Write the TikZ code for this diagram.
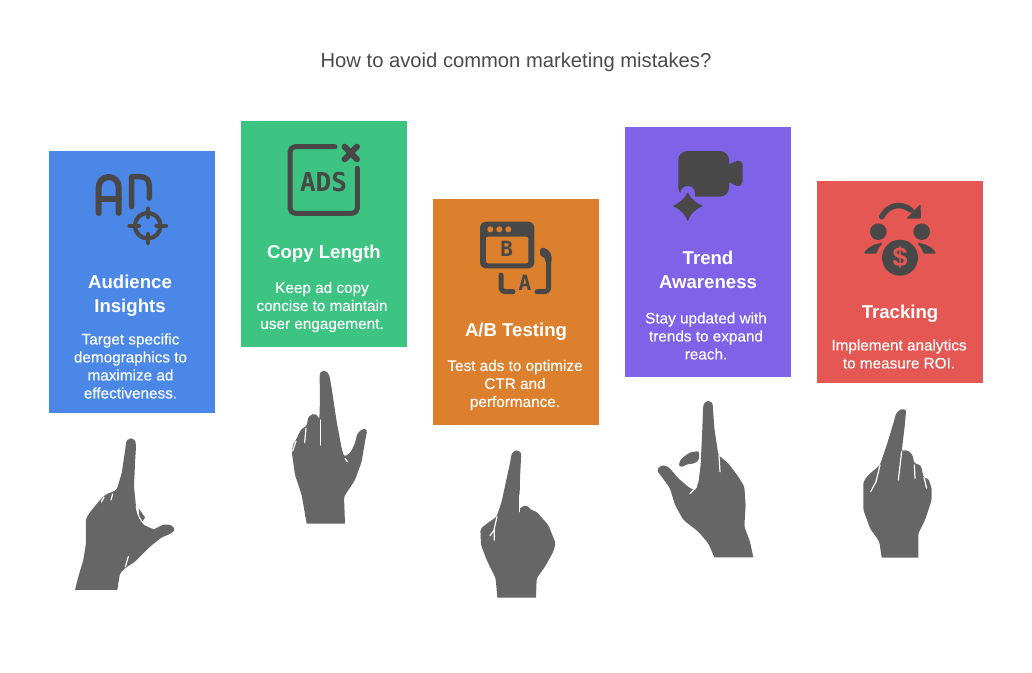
\documentclass[tikz,border=0pt]{standalone}
\usepackage{fontspec}
\setmainfont{Liberation Sans}
\newfontfamily\iconfont{DejaVu Sans Mono}
\newfontfamily\bodyfont[FakeBold=0.2]{Liberation Sans}
\definecolor{cardblue}{HTML}{4B87E6}
\definecolor{cardgreen}{HTML}{3DC482}
\definecolor{cardorange}{HTML}{DD802E}
\definecolor{cardpurple}{HTML}{7E63E8}
\definecolor{cardred}{HTML}{E55753}
\definecolor{icongray}{HTML}{484848}
\definecolor{handgray}{HTML}{666666}
\definecolor{titlegray}{HTML}{4A4A4A}
\tikzstyle{card}=[
    minimum width = 166pt,
    inner sep = 0pt,
    anchor = north west
]
\tikzstyle{headtext}=[
    text = white,
    align = center,
    font = \fontsize{18.6}{24}\selectfont\bfseries
]
\tikzstyle{bodytext}=[
    text = white,
    align = center,
    font = \bodyfont\fontsize{15.3}{18}\selectfont
]
\tikzstyle{iconline}=[
    draw = icongray,
    line width = 5pt,
    line cap = round,
    line join = round
]
\tikzstyle{icontext}=[
    text = icongray,
    inner sep = 0pt,
    font = \iconfont\bfseries\fontsize{26}{26}\selectfont
]
\tikzstyle{hand}=[
    fill = handgray,
    rounded corners = 2.5pt
]
\tikzstyle{slit}=[
    draw = white,
    line width = 1.2pt,
    line cap = round
]

\begin{document}
\begin{tikzpicture}[x=1pt, y=-1pt]
        \useasboundingbox (0,0) rectangle (1032,672);
        \node[text=titlegray, font=\fontsize{20.2}{24}\selectfont] (title) at (516,62) {How to avoid common marketing mistakes?};

        \node[card, fill=cardblue, minimum height=262pt] (card1) at (49,151) {};
        \node[card, fill=cardgreen, minimum height=226pt] (card2) at (241,121) {};
        \node[card, fill=cardorange, minimum height=226pt] (card3) at (433,199) {};
        \node[card, fill=cardpurple, minimum height=250pt] (card4) at (625,127) {};
        \node[card, fill=cardred, minimum height=202pt] (card5) at (817,181) {};

        \node[headtext] (head1) at (130,296) {Audience\\Insights};
        \node[bodytext] (body1) at (130.5,366) {Target specific\\demographics to\\maximize ad\\effectiveness.};
        \node[headtext] (head2) at (324,254) {Copy Length};
        \node[bodytext] (body2) at (322,307) {Keep ad copy\\concise to maintain\\user engagement.};
        \node[headtext] (head3) at (516,332) {A/B Testing};
        \node[bodytext] (body3) at (515,385) {Test ads to optimize\\CTR and\\performance.};
        \node[headtext] (head4) at (708,270) {Trend\\Awareness};
        \node[bodytext] (body4) at (706,336) {Stay updated with\\trends to expand\\reach.};
        \node[headtext] (head5) at (900,314) {Tracking};
        \node[bodytext] (body5) at (899,354) {Implement analytics\\to measure ROI.};

        % audience icon
        \draw[iconline, line width=6pt] (98.7,213) -- (98.7,187) arc[start angle=180, end angle=360, radius=10] -- (118.7,213);
        \draw[iconline, line width=6pt] (98.7,199) -- (118.7,199);
        \draw[iconline, line width=5.5pt] (131.7,206.7) -- (131.7,176.7) -- (140,176.7) .. controls (146,176.7) and (149.3,180) .. (149.3,186) -- (149.3,198);
        \draw[iconline, line width=4.2pt] (147.7,225.7) circle (12.8);
        \draw[iconline, line width=4.2pt] (147.7,208.5) -- (147.7,217);
        \draw[iconline, line width=4.2pt] (147.7,234) -- (147.7,243);
        \draw[iconline, line width=4.2pt] (129.5,225.7) -- (139,225.7);
        \draw[iconline, line width=4.2pt] (156.5,225.7) -- (166,225.7);

        % ads icon
        \draw[iconline, rounded corners=5pt] (335,146.7) -- (290,146.7) -- (290,213.3) -- (357.3,213.3) -- (357.3,168.3);
        \draw[iconline, line width=6pt] (344.5,146.7) -- (357,159.3);
        \draw[iconline, line width=6pt] (357,146.7) -- (344.5,159.3);
        \node[icontext] (adstext) at (323.5,182) {ADS};

        % a/b icon
        \fill[icongray, rounded corners=6pt] (480,221.7) rectangle (534.3,268.3);
        \fill[cardorange, rounded corners=2pt] (486,236.7) rectangle (528.3,263.3);
        \foreach \dotx in {490.3,499.3,508.3}
            \fill[cardorange] (\dotx,229.3) circle (3);
        \node[icontext, font=\iconfont\bfseries\fontsize{21}{21}\selectfont] (btext) at (506.7,249.3) {B};
        \node[icontext, font=\iconfont\bfseries\fontsize{21}{21}\selectfont] (atext) at (525,283.3) {A};
        \draw[iconline, rounded corners=4pt] (501,275) -- (501,291.7) -- (513,291.7);
        \draw[iconline, rounded corners=4pt] (537,291.7) -- (548.7,291.7) -- (548.7,262);
        \fill[icongray, rounded corners=3pt] (540,247.5) -- (546,248) -- (551.5,254) -- (551.5,264) -- (545.5,264) -- (545,257) -- (540,256.5) -- cycle;

        % video icon
        \fill[icongray, rounded corners=9pt] (678.3,151) rectangle (729,196.7);
        \fill[icongray, rounded corners=2pt] (725,166) -- (739,160) -- (742.7,163) -- (742.7,183) -- (739,187) -- (725,180.5) -- cycle;
        \fill[cardpurple] (687.7,193.3) circle (7.3);
        \fill[cardpurple] (680.4,193.3) rectangle (695,197);
        \filldraw[icongray, line width=1.5pt, line join=round] (687.7,193.5) .. controls (688.9,198) and (696.7,204.5) .. (701.5,206) .. controls (696.7,207.5) and (688.9,214) .. (687.7,220) .. controls (686.5,214) and (678.7,207.5) .. (674,206) .. controls (678.7,204.5) and (686.5,198) .. (687.7,193.5) -- cycle;

        % tracking icon
        \draw[iconline, line width=5.5pt] (881.7,216.7) .. controls (888,205) and (900,202) .. (911,210);
        \fill[icongray, rounded corners=1pt] (920.5,204) -- (921,218.5) -- (906.5,218.5) -- cycle;
        \fill[icongray] (878.3,231.7) circle (8.3);
        \fill[icongray] (921.7,231.7) circle (8.3);
        \fill[icongray, rounded corners=1pt] (864,253.5) .. controls (866,249) and (873,243.5) .. (882.7,243) .. controls (880,246) and (877.5,250) .. (876.5,253.5) -- cycle;
        \fill[icongray, rounded corners=1pt] (936,253.5) .. controls (934,249) and (927,243.5) .. (917.3,243) .. controls (920,246) and (922.5,250) .. (923.5,253.5) -- cycle;
        \fill[icongray] (900,257.7) circle (18);
        \node[text=cardred, inner sep=0pt, font=\fontsize{27}{27}\selectfont\bfseries] (dollar) at (900,257.7) {\$};

        % hands
        \begin{scope}[shift={(60,430)}, x=0.3333pt, y=-0.3333pt]
            \path[hand] (197,50) .. controls (199,20) and (226,18) .. (228,50) -- (225,100) -- (222,170) -- (228,230) -- (235,260) -- (250,285) -- (285,297) -- (310,283) -- (335,285) -- (346,300) -- (330,312) -- (305,322) -- (270,350) -- (225,395) -- (195,415) -- (180,430) [sharp corners] -- (172,480) -- (45,480) [rounded corners=2.5pt] -- (55,440) -- (70,390) -- (78,340) -- (78,265) -- (95,240) -- (120,210) -- (135,195) -- (150,188) -- (170,180) -- (185,130) -- cycle;
            \draw[slit] (229,228) .. controls (232,265) and (255,290) .. (285,296);
            \fill[handgray] (236,235) -- (255,262) -- (248,274) -- (238,258) -- cycle;
            \draw[slit] (132,202) -- (124,216);
            \draw[slit] (158,192) -- (153,210);
            \draw[slit] (205,380) -- (196,410);
        \end{scope}
        \begin{scope}[shift={(270,365)}, x=0.3333pt, y=-0.3333pt]
            \path[hand] (149,40) .. controls (149,12) and (172,12) .. (180,40) -- (185,70) -- (200,170) -- (215,250) -- (222,275) -- (240,265) -- (255,235) -- (262,205) -- (280,190) -- (292,195) -- (285,230) -- (275,290) -- (255,345) -- (222,395) [sharp corners] -- (225,476) -- (110,476) [rounded corners=2.5pt] -- (95,390) -- (75,330) -- (65,260) -- (70,235) -- (78,225) -- (85,210) -- (95,190) -- (108,186) -- (112,175) .. controls (115,145) and (140,140) .. (148,165) -- (150,100) -- cycle;
            \draw[slit] (152,165) -- (152,240);
            \draw[slit] (108,190) -- (104,232);
            \draw[slit] (78,228) -- (68,258);
            \draw[slit] (225,280) -- (232,290);
        \end{scope}
        \begin{scope}[shift={(465,445)}, x=0.3333pt, y=-0.3333pt]
            \path[hand] (137,45) .. controls (140,10) and (170,10) .. (168,40) -- (165,100) -- (163,195) -- (170,185) -- (185,180) -- (198,195) -- (215,200) -- (232,220) -- (250,240) -- (262,270) -- (272,295) -- (265,320) -- (240,365) -- (215,400) [sharp corners] -- (213,458) -- (97,458) [rounded corners=2.5pt] -- (92,400) -- (65,345) -- (48,300) -- (46,252) -- (60,240) -- (95,215) -- (110,170) -- (125,100) -- cycle;
            \draw[slit] (96,215) -- (88,250) -- (88,285);
            \draw[slit] (88,255) -- (75,272);
            \draw[slit] (164,150) -- (164,200);
        \end{scope}
        \begin{scope}[shift={(645,395)}, x=0.3333pt, y=-0.3333pt]
            \path[hand] (174,45) .. controls (176,12) and (202,12) .. (204,40) -- (208,100) -- (220,180) -- (250,205) -- (280,245) -- (298,275) -- (302,330) -- (298,395) -- (315,440) [sharp corners] -- (325,487) -- (208,487) [rounded corners=2.5pt] -- (190,445) -- (160,410) -- (115,375) -- (90,330) -- (75,280) -- (50,245) -- (35,225) -- (50,210) -- (70,215) -- (100,250) -- (135,280) -- (150,285) -- (160,265) -- (167,210) -- (172,100) -- cycle;
            \path[hand] (100,208) -- (110,190) -- (135,172) -- (163,168) -- (162,195) -- (150,205) -- (125,208) -- (108,218) -- cycle;
            \draw[slit] (222,180) -- (225,230);
            \draw[slit] (155,275) -- (135,296);
        \end{scope}
        \begin{scope}[shift={(850,400)}, x=0.3333pt, y=-0.3333pt]
            \path[hand] (133,60) .. controls (140,25) and (170,20) .. (167,45) -- (165,70) -- (155,155) .. controls (165,150) and (188,150) .. (192,190) -- (212,195) -- (222,235) -- (235,235) -- (245,265) -- (245,300) -- (225,360) -- (205,400) [sharp corners] -- (205,473) -- (95,473) [rounded corners=2.5pt] -- (88,425) -- (60,385) -- (40,330) -- (40,245) -- (55,225) -- (90,195) -- (115,120) -- cycle;
            \draw[slit] (155,155) -- (145,240);
            \draw[slit] (193,195) -- (195,235);
            \draw[slit] (222,232) -- (230,265);
            \draw[slit] (90,195) -- (78,245) -- (62,275);
        \end{scope}
    \end{tikzpicture}
\end{document}
